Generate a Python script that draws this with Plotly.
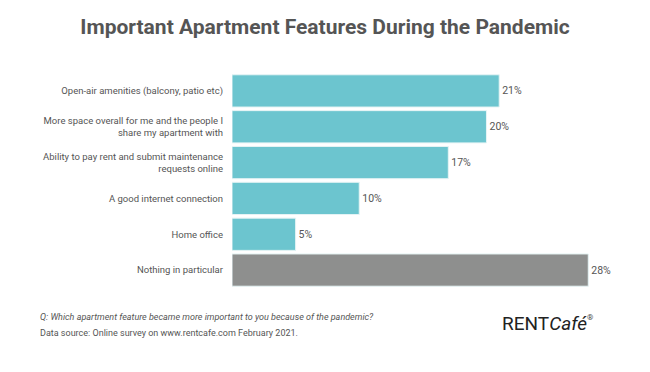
import plotly.graph_objects as go

categories = [
    "Open-air amenities (balcony, patio etc)",
    "More space overall for me and the people I<br>share my apartment with",
    "Ability to pay rent and submit maintenance<br>requests online",
    "A good internet connection",
    "Home office",
    "Nothing in particular",
]
values = [21, 20, 17, 10, 5, 28]
value_labels = ["21%", "20%", "17%", "10%", "5%", "28%"]
bar_colors = ["#6cc5cf", "#6cc5cf", "#6cc5cf", "#6cc5cf", "#6cc5cf", "#8e8f8e"]

fig = go.Figure(go.Bar(
    x=values, y=categories, orientation="h",
    marker=dict(color=bar_colors, line=dict(color="#e6f4f5", width=1)),
    text=value_labels, textposition="outside", cliponaxis=False,
    textfont=dict(family="Roboto", size=10.5, color="#555555"),
    width=0.9,
))

fig.update_layout(
    width=650, height=372,
    margin=dict(l=232, r=49, t=73, b=84),
    paper_bgcolor="white", plot_bgcolor="white",
    showlegend=False,
    font=dict(family="Roboto", color="#555555"),
    title=dict(
        text="<b>Important Apartment Features During the Pandemic</b>",
        x=0.5, xanchor="center", y=0.928, yanchor="middle",
        font=dict(family="Roboto", size=21, color="#555555"),
    ),
    xaxis=dict(range=[0, 29], visible=False),
    yaxis=dict(autorange="reversed", showgrid=False, showline=False, ticks="",
               ticklabelstandoff=8,
               tickfont=dict(family="Roboto", size=9.5, color="#555555")),
)

fig.add_annotation(
    text="<i>Q: Which apartment feature became more important to you because of the pandemic?</i>",
    xref="paper", yref="paper", x=-232/369 + 38/369, y=0, xanchor="left", yanchor="middle",
    yshift=-(317-288), showarrow=False,
    font=dict(family="Roboto", size=9, color="#555555"),
)
fig.add_annotation(
    text="Data source: Online survey on www.rentcafe.com February 2021.",
    xref="paper", yref="paper", x=-232/369 + 38/369, y=0, xanchor="left", yanchor="middle",
    yshift=-(333-288), showarrow=False,
    font=dict(family="Roboto", size=9, color="#555555"),
)
fig.add_annotation(
    text="RENT<i>Café</i>",
    xref="paper", yref="paper", x=(500-232)/369, y=0, xanchor="left", yanchor="middle",
    yshift=-(323-288), showarrow=False,
    font=dict(family="Roboto", size=19, color="#222222"),
)
fig.add_annotation(
    text="®",
    xref="paper", yref="paper", x=(585-232)/369, y=0, xanchor="left", yanchor="middle",
    yshift=-(317-288), showarrow=False,
    font=dict(family="Roboto", size=8, color="#444444"),
)

fig.write_html("out.html")
